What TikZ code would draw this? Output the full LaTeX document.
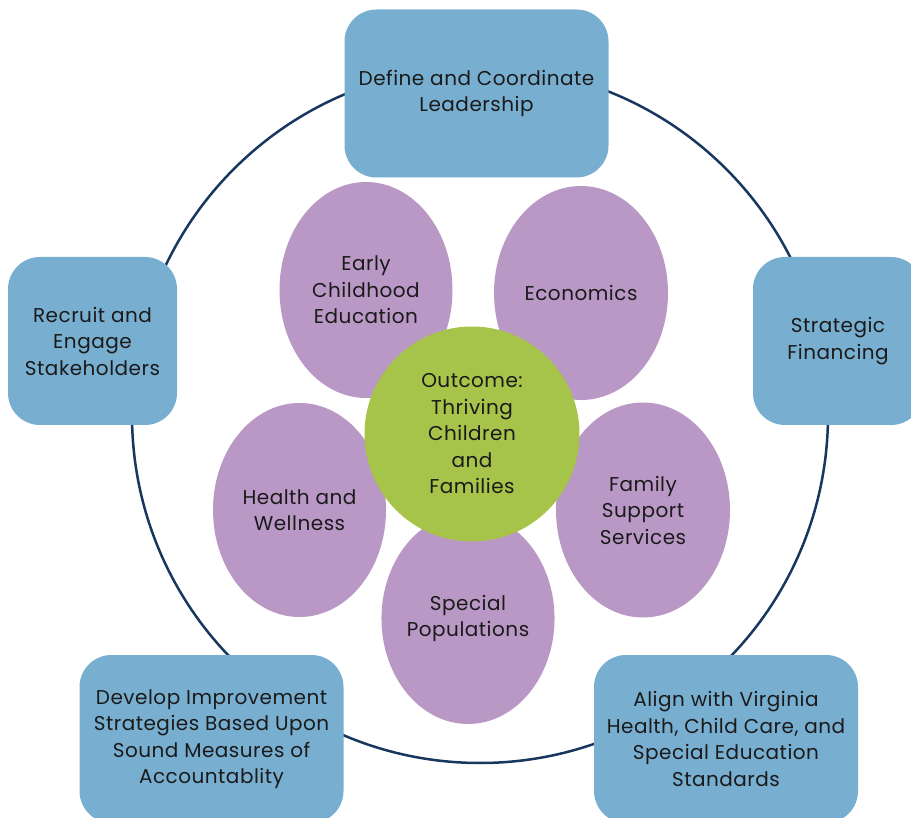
\documentclass[tikz,border=0pt]{standalone}
\usepackage{fontspec}
\setmainfont[LetterSpace=2.5]{Poppins}
\usetikzlibrary{shapes.geometric}
\definecolor{boxblue}{HTML}{78AFD0}
\definecolor{petal}{HTML}{BA98C6}
\definecolor{leaf}{HTML}{A6C34A}
\definecolor{ring}{HTML}{17375E}
\definecolor{ink}{HTML}{1A1A1A}
\tikzset{
  goal/.style={draw=none,fill=boxblue,rounded corners=32pt,align=center,text=ink,
    font=\fontsize{20}{26.5}\selectfont},
  area/.style={ellipse,fill=petal,align=center,text=ink,inner sep=0pt,
    font=\fontsize{20}{26.5}\selectfont},
}
\begin{document}
\begin{tikzpicture}[x=1pt,y=-1pt]
      \useasboundingbox (0,0) rectangle (911,818);
      \draw[ring,line width=2.5pt] (480,415) circle (348);
      % strategy boxes
      \node[goal,minimum width=264pt,minimum height=168pt] (lead) at (476.5,93.5) {Define and Coordinate\\Leadership};
      \node[goal,minimum width=169pt,minimum height=168pt] (recruit) at (92.5,341) {Recruit and\\Engage\\Stakeholders};
      \node[goal,minimum width=170pt,minimum height=168pt] (finance) at (838,341) {Strategic\\Financing};
      \node[goal,minimum width=264pt,minimum height=168pt] (develop) at (211.5,739) {Develop Improvement\\Strategies Based Upon\\Sound Measures of\\Accountablity};
      \node[goal,minimum width=264pt,minimum height=168pt] (align) at (726,739) {Align with Virginia\\Health, Child Care, and\\Special Education\\Standards};
      % focus areas
      \node[area,minimum width=173pt,minimum height=216pt] (early) at (366,290) {Early\\Childhood\\Education};
      \node[area,minimum width=174pt,minimum height=214pt] (econ) at (581,293) {Economics};
      \node[area,minimum width=174pt,minimum height=215pt] (family) at (643,510) {Family\\Support\\Services};
      \node[area,minimum width=173pt,minimum height=214pt] (health) at (299.5,510) {Health and\\Wellness};
      \node[area,minimum width=172pt,minimum height=211pt] (special) at (468,618.5) {Special\\Populations};
      \node[circle,fill=leaf,minimum size=215pt,inner sep=0pt,align=center,text=ink,
        font=\fontsize{20}{26.5}\selectfont] (outcome) at (472,434) {Outcome:\\Thriving\\Children\\and\\Families};
\end{tikzpicture}
\end{document}
